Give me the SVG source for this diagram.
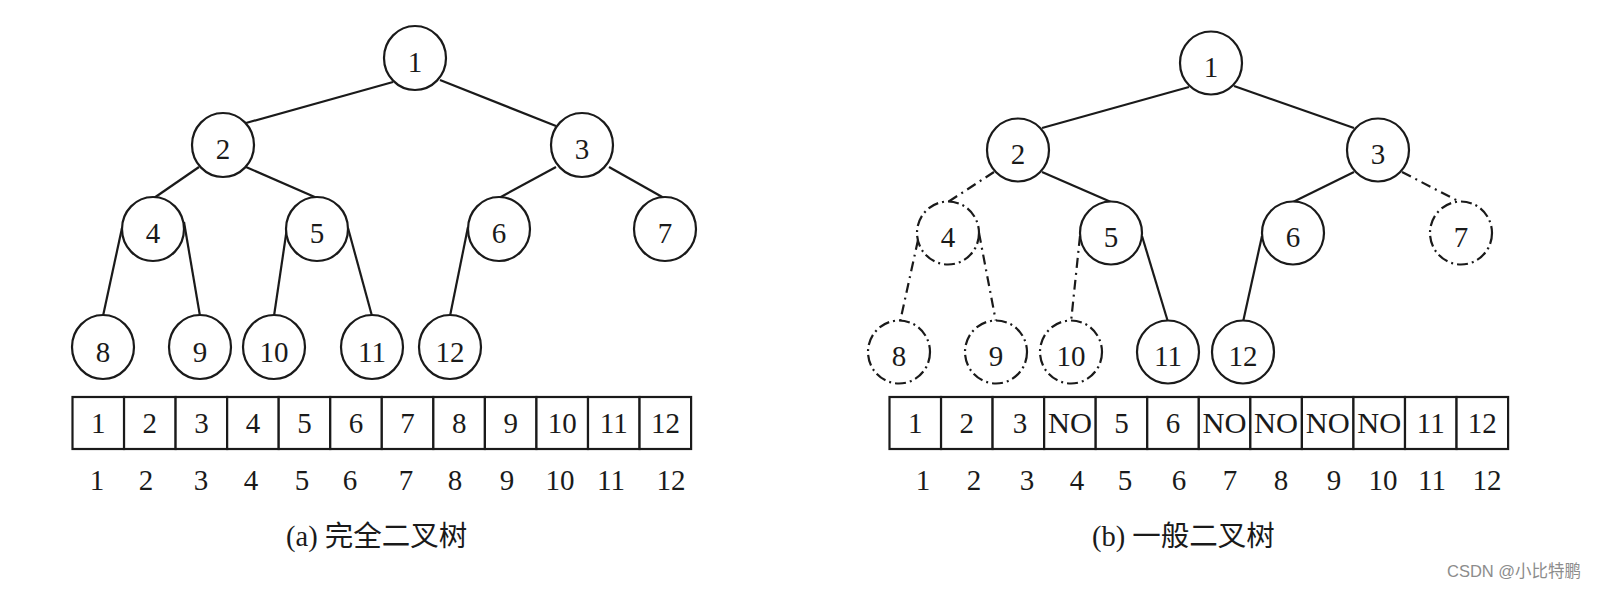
<svg xmlns="http://www.w3.org/2000/svg" width="1599" height="590" viewBox="0 0 1599 590">
<style>
  .node ellipse { fill: #fff; stroke: #1a1a1a; stroke-width: 2.2; }
  .node.dash ellipse { stroke-dasharray: 11 4 2 4; }
  .node text, .num { font-family: "Liberation Serif", "Times New Roman", serif; font-size: 29px; fill: #1a1a1a; text-anchor: middle; }
  .edges line { stroke: #1a1a1a; stroke-width: 2.2; }
  .edges .dash { stroke-dasharray: 10 5 2 5; }
  .cells rect { fill: #fff; stroke: #1a1a1a; stroke-width: 2.2; }
  .cap { font-family: "Liberation Serif", "Noto Sans CJK SC", serif; font-size: 28.5px; fill: #1a1a1a; }
  .wm { font-family: "Liberation Sans", "Noto Sans CJK SC", sans-serif; font-size: 16.5px; fill: #8c8c8c; }
</style>
<rect width="1599" height="590" fill="#fff"/>

<!-- (a) complete binary tree: connectors -->
<g id="edges-a" class="edges">
  <line x1="393" y1="82" x2="246" y2="123"/>
  <line x1="440" y1="80" x2="556" y2="126"/>
  <line x1="199" y1="167" x2="154" y2="198"/>
  <line x1="246" y1="167" x2="317" y2="198"/>
  <line x1="556" y1="167" x2="499" y2="198"/>
  <line x1="609" y1="167" x2="664" y2="198"/>
  <line x1="122" y1="228" x2="103" y2="316"/>
  <line x1="184" y1="222" x2="200" y2="316"/>
  <line x1="287" y1="228" x2="274" y2="316"/>
  <line x1="348" y1="228" x2="372" y2="316"/>
  <line x1="468" y1="227" x2="450" y2="316"/>
</g>

<g id="a-n1" class="node"><ellipse cx="415" cy="58" rx="31" ry="32"/><text x="415" y="72">1</text></g>
<g id="a-n2" class="node"><ellipse cx="223" cy="145" rx="31" ry="32"/><text x="223" y="159">2</text></g>
<g id="a-n3" class="node"><ellipse cx="582" cy="145" rx="31" ry="32"/><text x="582" y="159">3</text></g>
<g id="a-n4" class="node"><ellipse cx="153" cy="229" rx="31" ry="32"/><text x="153" y="243">4</text></g>
<g id="a-n5" class="node"><ellipse cx="317" cy="229" rx="31" ry="32"/><text x="317" y="243">5</text></g>
<g id="a-n6" class="node"><ellipse cx="499" cy="229" rx="31" ry="32"/><text x="499" y="243">6</text></g>
<g id="a-n7" class="node"><ellipse cx="665" cy="229" rx="31" ry="32"/><text x="665" y="243">7</text></g>
<g id="a-n8" class="node"><ellipse cx="103" cy="347" rx="31" ry="32"/><text x="103" y="362">8</text></g>
<g id="a-n9" class="node"><ellipse cx="200" cy="347" rx="31" ry="32"/><text x="200" y="362">9</text></g>
<g id="a-n10" class="node"><ellipse cx="274" cy="347" rx="31" ry="32"/><text x="274" y="362">10</text></g>
<g id="a-n11" class="node"><ellipse cx="372" cy="347" rx="31" ry="32"/><text x="372" y="362">11</text></g>
<g id="a-n12" class="node"><ellipse cx="450" cy="347" rx="31" ry="32"/><text x="450" y="362">12</text></g>

<!-- (a) array -->
<g id="array-a" class="cells">
  <rect x="72.5" y="397" width="51.55" height="52"/>
  <rect x="124.05" y="397" width="51.55" height="52"/>
  <rect x="175.6" y="397" width="51.55" height="52"/>
  <rect x="227.15" y="397" width="51.55" height="52"/>
  <rect x="278.7" y="397" width="51.55" height="52"/>
  <rect x="330.25" y="397" width="51.55" height="52"/>
  <rect x="381.8" y="397" width="51.55" height="52"/>
  <rect x="433.35" y="397" width="51.55" height="52"/>
  <rect x="484.9" y="397" width="51.55" height="52"/>
  <rect x="536.45" y="397" width="51.55" height="52"/>
  <rect x="588" y="397" width="51.55" height="52"/>
  <rect x="639.55" y="397" width="51.55" height="52"/>
  <g class="num">
    <text x="98.3" y="433">1</text>
    <text x="149.8" y="433">2</text>
    <text x="201.4" y="433">3</text>
    <text x="252.9" y="433">4</text>
    <text x="304.5" y="433">5</text>
    <text x="356.1" y="433">6</text>
    <text x="407.6" y="433">7</text>
    <text x="459.2" y="433">8</text>
    <text x="510.7" y="433">9</text>
    <text x="562.3" y="433">10</text>
    <text x="613.8" y="433">11</text>
    <text x="665.4" y="433">12</text>
  </g>
</g>
<g id="index-a" class="num">
  <text x="97" y="490">1</text>
  <text x="146" y="490">2</text>
  <text x="201" y="490">3</text>
  <text x="251" y="490">4</text>
  <text x="302" y="490">5</text>
  <text x="350" y="490">6</text>
  <text x="406" y="490">7</text>
  <text x="455" y="490">8</text>
  <text x="507" y="490">9</text>
  <text x="560" y="490">10</text>
  <text x="611" y="490">11</text>
  <text x="671" y="490">12</text>
</g>
<text id="caption-a" class="cap" x="286" y="546">(a) 完全二叉树</text>

<!-- (b) general binary tree: connectors -->
<g id="edges-b" class="edges">
  <line x1="1189" y1="87" x2="1042" y2="128"/>
  <line x1="1234" y1="86" x2="1354" y2="128"/>
  <line class="dash" x1="994" y1="172" x2="948" y2="202"/>
  <line x1="1042" y1="172" x2="1111" y2="202"/>
  <line x1="1354" y1="172" x2="1293" y2="202"/>
  <line class="dash" x1="1402" y1="172" x2="1460" y2="202"/>
  <line class="dash" x1="918" y1="240" x2="900" y2="322"/>
  <line class="dash" x1="979" y1="233" x2="996" y2="322"/>
  <line class="dash" x1="1080" y1="236" x2="1071" y2="322"/>
  <line x1="1142" y1="236" x2="1168" y2="322"/>
  <line x1="1262" y1="236" x2="1243" y2="322"/>
</g>

<g id="b-n1" class="node"><ellipse cx="1211" cy="63" rx="31" ry="31.5"/><text x="1211" y="77">1</text></g>
<g id="b-n2" class="node"><ellipse cx="1018" cy="150" rx="31" ry="31.5"/><text x="1018" y="164">2</text></g>
<g id="b-n3" class="node"><ellipse cx="1378" cy="150" rx="31" ry="31.5"/><text x="1378" y="164">3</text></g>
<g id="b-n4" class="node dash"><ellipse cx="948" cy="233" rx="31" ry="31.5"/><text x="948" y="247">4</text></g>
<g id="b-n5" class="node"><ellipse cx="1111" cy="233" rx="31" ry="31.5"/><text x="1111" y="247">5</text></g>
<g id="b-n6" class="node"><ellipse cx="1293" cy="233" rx="31" ry="31.5"/><text x="1293" y="247">6</text></g>
<g id="b-n7" class="node dash"><ellipse cx="1461" cy="233" rx="31" ry="31.5"/><text x="1461" y="247">7</text></g>
<g id="b-n8" class="node dash"><ellipse cx="899" cy="352" rx="31" ry="31.5"/><text x="899" y="366">8</text></g>
<g id="b-n9" class="node dash"><ellipse cx="996" cy="352" rx="31" ry="31.5"/><text x="996" y="366">9</text></g>
<g id="b-n10" class="node dash"><ellipse cx="1071" cy="352" rx="31" ry="31.5"/><text x="1071" y="366">10</text></g>
<g id="b-n11" class="node"><ellipse cx="1168" cy="352" rx="31" ry="31.5"/><text x="1168" y="366">11</text></g>
<g id="b-n12" class="node"><ellipse cx="1243" cy="352" rx="31" ry="31.5"/><text x="1243" y="366">12</text></g>

<!-- (b) array -->
<g id="array-b" class="cells">
  <rect x="889.5" y="397" width="51.55" height="52"/>
  <rect x="941.05" y="397" width="51.55" height="52"/>
  <rect x="992.6" y="397" width="51.55" height="52"/>
  <rect x="1044.15" y="397" width="51.55" height="52"/>
  <rect x="1095.7" y="397" width="51.55" height="52"/>
  <rect x="1147.25" y="397" width="51.55" height="52"/>
  <rect x="1198.8" y="397" width="51.55" height="52"/>
  <rect x="1250.35" y="397" width="51.55" height="52"/>
  <rect x="1301.9" y="397" width="51.55" height="52"/>
  <rect x="1353.45" y="397" width="51.55" height="52"/>
  <rect x="1405" y="397" width="51.55" height="52"/>
  <rect x="1456.55" y="397" width="51.55" height="52"/>
  <g class="num">
    <text x="915.3" y="433">1</text>
    <text x="966.8" y="433">2</text>
    <text x="1020" y="433">3</text>
    <text x="1069.9" y="433" textLength="44" lengthAdjust="spacingAndGlyphs">NO</text>
    <text x="1121.5" y="433">5</text>
    <text x="1173" y="433">6</text>
    <text x="1224.6" y="433" textLength="44" lengthAdjust="spacingAndGlyphs">NO</text>
    <text x="1276.1" y="433" textLength="44" lengthAdjust="spacingAndGlyphs">NO</text>
    <text x="1327.7" y="433" textLength="44" lengthAdjust="spacingAndGlyphs">NO</text>
    <text x="1379.2" y="433" textLength="44" lengthAdjust="spacingAndGlyphs">NO</text>
    <text x="1430.8" y="433">11</text>
    <text x="1482.3" y="433">12</text>
  </g>
</g>
<g id="index-b" class="num">
  <text x="923" y="490">1</text>
  <text x="974" y="490">2</text>
  <text x="1027" y="490">3</text>
  <text x="1077" y="490">4</text>
  <text x="1125" y="490">5</text>
  <text x="1179" y="490">6</text>
  <text x="1230" y="490">7</text>
  <text x="1281" y="490">8</text>
  <text x="1334" y="490">9</text>
  <text x="1383" y="490">10</text>
  <text x="1432" y="490">11</text>
  <text x="1487" y="490">12</text>
</g>
<text id="caption-b" class="cap" x="1092" y="546">(b) 一般二叉树</text>

<text id="watermark" class="wm" x="1447" y="577">CSDN @小比特鹏</text>
</svg>
